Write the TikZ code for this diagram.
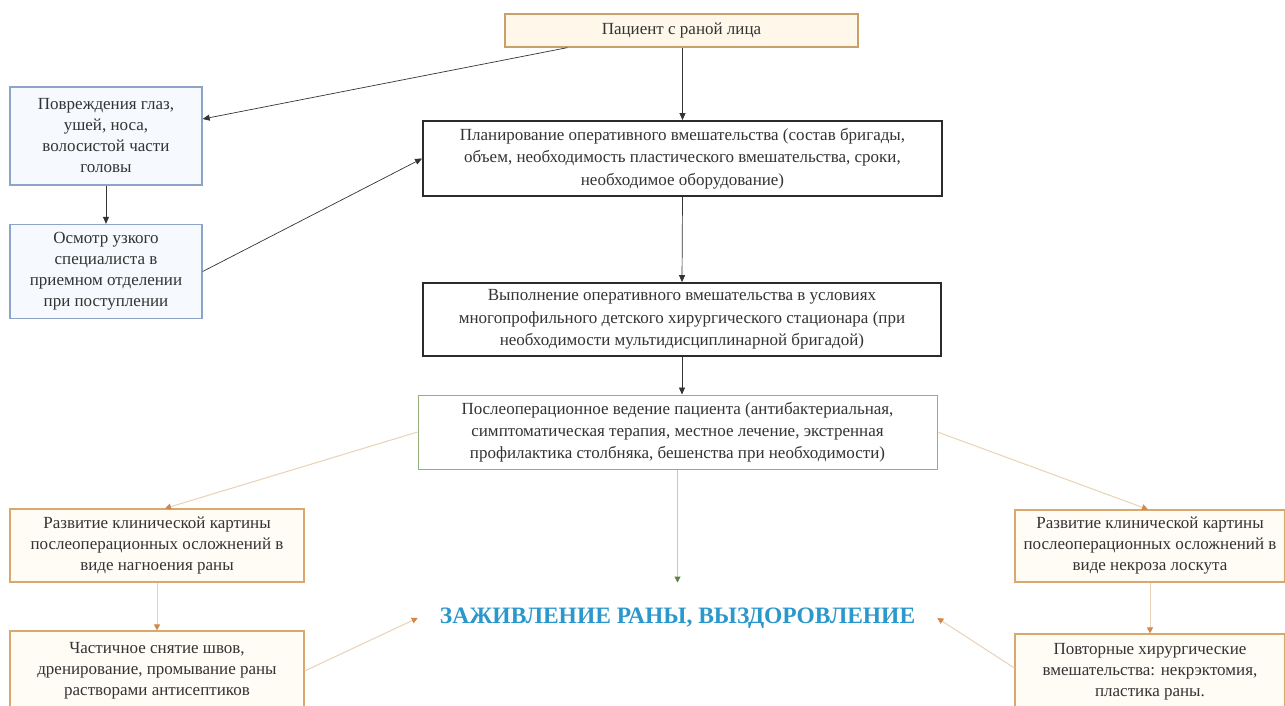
\documentclass[tikz,border=0pt]{standalone}
\usepackage{fontspec}
\setmainfont{Liberation Serif}
\usetikzlibrary{arrows.meta,calc}
\definecolor{txt}{HTML}{333333}
\definecolor{topb}{HTML}{C9A06A}
\definecolor{topf}{HTML}{FFF8EA}
\definecolor{blueb}{HTML}{8CA4C8}
\definecolor{bluef}{HTML}{F6F9FD}
\definecolor{darkb}{HTML}{2B2B2B}
\definecolor{greenb}{HTML}{93B07A}
\definecolor{orb}{HTML}{D9A86C}
\definecolor{orf}{HTML}{FFFCF6}
\definecolor{orline}{HTML}{E9D2B6}
\definecolor{orhead}{HTML}{D4874A}
\definecolor{grline}{HTML}{C2CFB5}
\definecolor{grhead}{HTML}{5E7F48}
\definecolor{healc}{HTML}{2A98CC}
\tikzset{
  basebox/.style={align=center, inner sep=0pt, text=txt,
    font=\fontsize{17}{21}\selectfont},
  topbox/.style={basebox, draw=topb, fill=topf, line width=1.3pt},
  bluebox/.style={basebox, draw=blueb, fill=bluef, line width=1.3pt},
  darkbox/.style={basebox, draw=darkb, fill=white, line width=1.8pt, font=\fontsize{17}{22.5}\selectfont},
  greenbox/.style={basebox, draw=greenb, fill=white, line width=1pt, font=\fontsize{17}{22}\selectfont},
  orbox/.style={basebox, draw=orb, fill=orf, line width=1.2pt, font=\fontsize{17}{21}\selectfont},
  arr/.style={draw=txt, line width=0.7pt, -{Triangle[length=7pt,width=6pt]}},
  orarr/.style={draw=orline, line width=1pt, -{Triangle[length=6pt,width=6pt,color=orhead,fill=orhead]}},
  grarr/.style={draw=grline, line width=1pt, -{Triangle[length=6pt,width=6pt,color=grhead,fill=grhead]}},
  heal/.style={text=healc, font=\fontsize{23.5}{27}\selectfont\bfseries, inner xsep=22pt, inner ysep=25pt}
}
\begin{document}
\begin{tikzpicture}[x=1pt,y=-1pt]
\useasboundingbox (0,0) rectangle (1285,705);
\fill[white] (0,0) rectangle (1285,705);
\clip (0,0) rectangle (1285,705);

\node[topbox, minimum width=353pt, minimum height=33pt] (top) at (681.5,30.5) {Пациент с раной лица};
\node[bluebox, minimum width=192pt, minimum height=98pt] (left1) at (106,136)
  {Повреждения глаз,\\ушей, носа,\\волосистой части\\головы};
\node[bluebox, minimum width=192pt, minimum height=94pt] (left2) at (106,271.5)
  {Осмотр узкого\\специалиста в\\приемном отделении\\при поступлении};
\node[darkbox, minimum width=519pt, minimum height=75pt] (plan) at (682.5,158.5)
  {Планирование оперативного вмешательства (состав бригады,\\объем, необходимость пластического вмешательства, сроки,\\необходимое оборудование)};
\node[darkbox, minimum width=518pt, minimum height=73pt] (exec) at (682,319.5)
  {Выполнение оперативного вмешательства в условиях\\многопрофильного детского хирургического стационара (при\\необходимости мультидисциплинарной бригадой)};
\node[greenbox, minimum width=519pt, minimum height=74pt] (post) at (677.5,432)
  {Послеоперационное ведение пациента (антибактериальная,\\симптоматическая терапия, местное лечение, экстренная\\профилактика столбняка, бешенства при необходимости)};
\node[orbox, minimum width=294pt, minimum height=73pt] (ol1) at (157,545.5)
  {Развитие клинической картины\\послеоперационных осложнений в\\виде нагноения раны};
\node[orbox, minimum width=294pt, minimum height=80pt] (ol2) at (157,671)
  {Частичное снятие швов,\\дренирование, промывание раны\\растворами антисептиков};
\node[orbox, minimum width=270pt, minimum height=72pt] (or1) at (1150,546)
  {Развитие клинической картины\\послеоперационных осложнений в\\виде некроза лоскута};
\node[orbox, minimum width=270pt, minimum height=76pt] (or2) at (1150,672)
  {Повторные хирургические\\вмешательства: некрэктомия,\\пластика раны.};
\node[heal] (healn) at (677.5,618) {ЗАЖИВЛЕНИЕ РАНЫ, ВЫЗДОРОВЛЕНИЕ};

\coordinate (topout) at ($(top.south west)+(63,0)$);
\draw[arr] (topout) -- ([yshift=17pt]left1.east);
\draw[arr] (left1.south) -- (left2.north);
\draw[arr] (left2.east) -- (plan.west);
\draw[arr] (plan.north |- top.south) -- (plan.north);
\draw[arr] (plan.south) -- (exec.north);
\draw[arr] (exec.south) -- (exec.south |- post.north);
\draw[orarr] (post.west) -- ([xshift=8pt]ol1.north);
\draw[orarr] (post.east) -- ([xshift=-2pt]or1.north);
\draw[grarr] (post.south) -- (healn.north);
\draw[orarr] (ol1.south) -- (ol2.north);
\draw[orarr] (or1.south) -- (or2.north);
\draw[orarr] (ol2.east) -- (healn.west);
\draw[orarr] ([yshift=4pt]or2.west) -- (healn.east);
\end{tikzpicture}
\end{document}
